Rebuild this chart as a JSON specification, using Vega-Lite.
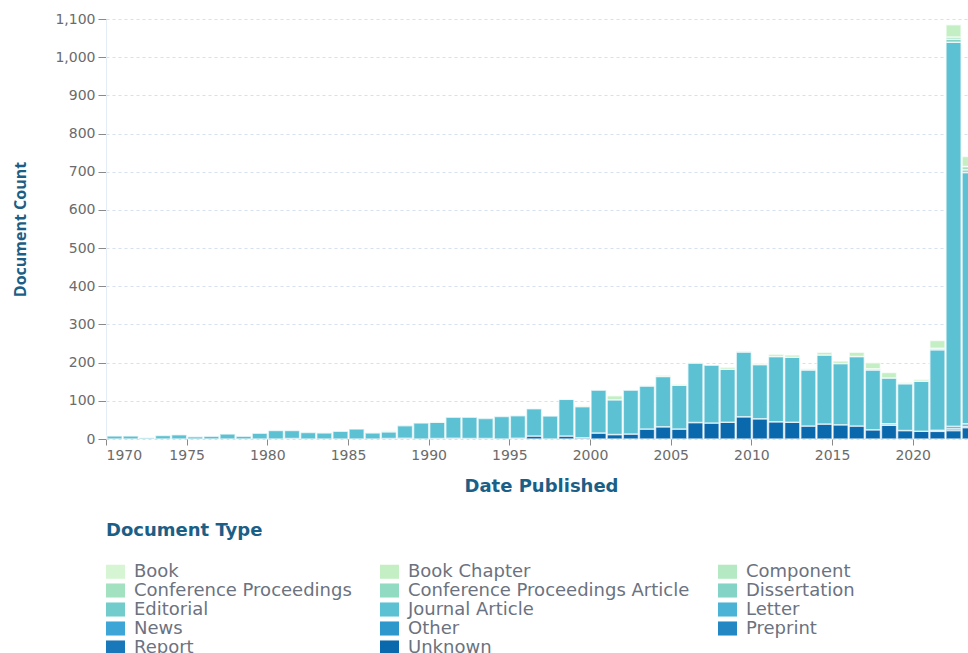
{
  "$schema": "https://vega.github.io/schema/vega-lite/v6.json",
  "width": 862,
  "height": 420,
  "autosize": {"type": "none"},
  "padding": {"left": 106, "top": 19, "right": 0, "bottom": 214},
  "background": "white",
  "config": {
    "view": {"stroke": null},
    "font": "DejaVu Sans"
  },
  "data": {
    "values": [
      {"year": "1970", "type": "Journal Article", "count": 8},
      {"year": "1971", "type": "Journal Article", "count": 8},
      {"year": "1972", "type": "Journal Article", "count": 3},
      {"year": "1973", "type": "Journal Article", "count": 9},
      {"year": "1974", "type": "Journal Article", "count": 11},
      {"year": "1975", "type": "Journal Article", "count": 6},
      {"year": "1976", "type": "Journal Article", "count": 7},
      {"year": "1977", "type": "Journal Article", "count": 13},
      {"year": "1978", "type": "Journal Article", "count": 7},
      {"year": "1979", "type": "Journal Article", "count": 15},
      {"year": "1980", "type": "Journal Article", "count": 22},
      {"year": "1981", "type": "News", "count": 1},
      {"year": "1981", "type": "Journal Article", "count": 21},
      {"year": "1982", "type": "Journal Article", "count": 17},
      {"year": "1983", "type": "Journal Article", "count": 16},
      {"year": "1984", "type": "Journal Article", "count": 20},
      {"year": "1985", "type": "Journal Article", "count": 26},
      {"year": "1986", "type": "Journal Article", "count": 16},
      {"year": "1987", "type": "Unknown", "count": 1},
      {"year": "1987", "type": "Journal Article", "count": 18},
      {"year": "1987", "type": "Book Chapter", "count": 3},
      {"year": "1988", "type": "Unknown", "count": 2},
      {"year": "1988", "type": "Journal Article", "count": 33},
      {"year": "1989", "type": "Journal Article", "count": 42},
      {"year": "1990", "type": "Unknown", "count": 1},
      {"year": "1990", "type": "Journal Article", "count": 43},
      {"year": "1990", "type": "Book Chapter", "count": 1},
      {"year": "1991", "type": "Unknown", "count": 2},
      {"year": "1991", "type": "Journal Article", "count": 55},
      {"year": "1992", "type": "Unknown", "count": 1},
      {"year": "1992", "type": "Journal Article", "count": 56},
      {"year": "1993", "type": "Unknown", "count": 1},
      {"year": "1993", "type": "Journal Article", "count": 53},
      {"year": "1994", "type": "Journal Article", "count": 59},
      {"year": "1995", "type": "Unknown", "count": 2},
      {"year": "1995", "type": "Journal Article", "count": 59},
      {"year": "1996", "type": "Unknown", "count": 8},
      {"year": "1996", "type": "Journal Article", "count": 71},
      {"year": "1997", "type": "Journal Article", "count": 60},
      {"year": "1998", "type": "Unknown", "count": 8},
      {"year": "1998", "type": "Journal Article", "count": 96},
      {"year": "1998", "type": "Book Chapter", "count": 1},
      {"year": "1999", "type": "Unknown", "count": 3},
      {"year": "1999", "type": "Journal Article", "count": 82},
      {"year": "1999", "type": "Book Chapter", "count": 2},
      {"year": "2000", "type": "Unknown", "count": 16},
      {"year": "2000", "type": "Journal Article", "count": 112},
      {"year": "2001", "type": "Unknown", "count": 12},
      {"year": "2001", "type": "Journal Article", "count": 91},
      {"year": "2001", "type": "Book Chapter", "count": 10},
      {"year": "2002", "type": "Unknown", "count": 13},
      {"year": "2002", "type": "Journal Article", "count": 115},
      {"year": "2003", "type": "Unknown", "count": 26},
      {"year": "2003", "type": "Journal Article", "count": 113},
      {"year": "2003", "type": "Book Chapter", "count": 1},
      {"year": "2004", "type": "Unknown", "count": 32},
      {"year": "2004", "type": "Journal Article", "count": 132},
      {"year": "2004", "type": "Book Chapter", "count": 3},
      {"year": "2005", "type": "Unknown", "count": 26},
      {"year": "2005", "type": "Journal Article", "count": 115},
      {"year": "2005", "type": "Book Chapter", "count": 2},
      {"year": "2006", "type": "Unknown", "count": 43},
      {"year": "2006", "type": "Journal Article", "count": 156},
      {"year": "2006", "type": "Book Chapter", "count": 1},
      {"year": "2007", "type": "Unknown", "count": 42},
      {"year": "2007", "type": "Journal Article", "count": 151},
      {"year": "2008", "type": "Unknown", "count": 44},
      {"year": "2008", "type": "Journal Article", "count": 139},
      {"year": "2008", "type": "Book Chapter", "count": 5},
      {"year": "2009", "type": "Unknown", "count": 58},
      {"year": "2009", "type": "Journal Article", "count": 170},
      {"year": "2009", "type": "Book Chapter", "count": 2},
      {"year": "2010", "type": "Unknown", "count": 53},
      {"year": "2010", "type": "Journal Article", "count": 142},
      {"year": "2010", "type": "Book Chapter", "count": 3},
      {"year": "2011", "type": "Unknown", "count": 45},
      {"year": "2011", "type": "Journal Article", "count": 171},
      {"year": "2011", "type": "Book Chapter", "count": 6},
      {"year": "2012", "type": "Unknown", "count": 44},
      {"year": "2012", "type": "Journal Article", "count": 170},
      {"year": "2012", "type": "Book Chapter", "count": 6},
      {"year": "2013", "type": "Unknown", "count": 34},
      {"year": "2013", "type": "Journal Article", "count": 147},
      {"year": "2013", "type": "Book Chapter", "count": 3},
      {"year": "2014", "type": "Unknown", "count": 39},
      {"year": "2014", "type": "Journal Article", "count": 181},
      {"year": "2014", "type": "Book Chapter", "count": 7},
      {"year": "2015", "type": "Unknown", "count": 37},
      {"year": "2015", "type": "Journal Article", "count": 161},
      {"year": "2015", "type": "Book Chapter", "count": 6},
      {"year": "2016", "type": "Unknown", "count": 34},
      {"year": "2016", "type": "Journal Article", "count": 182},
      {"year": "2016", "type": "Book Chapter", "count": 11},
      {"year": "2017", "type": "Unknown", "count": 24},
      {"year": "2017", "type": "Journal Article", "count": 157},
      {"year": "2017", "type": "Dissertation", "count": 3},
      {"year": "2017", "type": "Book Chapter", "count": 16},
      {"year": "2018", "type": "Unknown", "count": 36},
      {"year": "2018", "type": "Journal Article", "count": 120},
      {"year": "2018", "type": "Letter", "count": 4},
      {"year": "2018", "type": "Book Chapter", "count": 14},
      {"year": "2019", "type": "Unknown", "count": 22},
      {"year": "2019", "type": "Journal Article", "count": 123},
      {"year": "2019", "type": "Book Chapter", "count": 3},
      {"year": "2020", "type": "Unknown", "count": 20},
      {"year": "2020", "type": "Journal Article", "count": 131},
      {"year": "2020", "type": "Book Chapter", "count": 5},
      {"year": "2021", "type": "Unknown", "count": 20},
      {"year": "2021", "type": "Letter", "count": 3},
      {"year": "2021", "type": "Journal Article", "count": 211},
      {"year": "2021", "type": "Dissertation", "count": 4},
      {"year": "2021", "type": "Book Chapter", "count": 20},
      {"year": "2022", "type": "Unknown", "count": 22},
      {"year": "2022", "type": "Preprint", "count": 5},
      {"year": "2022", "type": "Journal Article", "count": 1006},
      {"year": "2022", "type": "Letter", "count": 6},
      {"year": "2022", "type": "Dissertation", "count": 8},
      {"year": "2022", "type": "Conference Proceedings", "count": 6},
      {"year": "2022", "type": "Book Chapter", "count": 32},
      {"year": "2023", "type": "Unknown", "count": 30},
      {"year": "2023", "type": "Preprint", "count": 3},
      {"year": "2023", "type": "Journal Article", "count": 659},
      {"year": "2023", "type": "Letter", "count": 6},
      {"year": "2023", "type": "Dissertation", "count": 7},
      {"year": "2023", "type": "Conference Proceedings", "count": 9},
      {"year": "2023", "type": "Book Chapter", "count": 26}
    ]
  },
  "mark": {"type": "bar", "clip": true, "stroke": "#ffffff", "strokeWidth": 1.5, "strokeOpacity": 0.65},
  "encoding": {
    "x": {
      "field": "year",
      "type": "temporal",
      "timeUnit": "utcyear",
      "scale": {"domain": [{"year": 1970, "month": 1, "date": 1, "utc": true}, {"year": 2023, "month": 6, "date": 6, "utc": true}], "nice": false},
      "axis": {
        "title": "Date Published",
        "format": "%Y",
        "tickCount": {"interval": "year", "step": 5},
        "grid": false,
        "domain": false,
        "tickSize": 6,
        "tickColor": "#8a8a8a",
        "labelColor": "#6b6b6b",
        "labelFontSize": 14,
        "labelPadding": 3,
        "titleColor": "#1b5e86",
        "titleFontSize": 18,
        "titleFontWeight": "bold",
        "titlePadding": 15,
        "titleX": 435
      }
    },
    "y": {
      "field": "count",
      "type": "quantitative",
      "aggregate": "sum",
      "stack": "zero",
      "scale": {"domain": [0, 1100], "nice": false},
      "axis": {
        "title": "Document Count",
        "titleFont": "Open Sans",
        "format": ",d",
        "values": [0, 100, 200, 300, 400, 500, 600, 700, 800, 900, 1000, 1100],
        "grid": true,
        "gridDash": [3, 3],
        "gridColor": "#d6e0f0",
        "domainColor": "#e3ecf7",
        "tickSize": 8,
        "tickColor": "#8a8a8a",
        "labelColor": "#6b6b6b",
        "labelFontSize": 14,
        "labelPadding": 3,
        "titleColor": "#1b5e86",
        "titleFontSize": 16,
        "titleFontWeight": "bold",
        "titlePadding": 26
      }
    },
    "color": {
      "field": "type",
      "type": "nominal",
      "scale": {
        "domain": ["Book", "Book Chapter", "Component", "Conference Proceedings", "Conference Proceedings Article", "Dissertation", "Editorial", "Journal Article", "Letter", "News", "Other", "Preprint", "Report", "Unknown"],
        "range": ["#d6f5d3", "#c4efc4", "#b5e9c3", "#a3e2c1", "#92dbc3", "#83d4c7", "#71cccb", "#5cc1d2", "#4bb4d6", "#3ea6d6", "#2e97cb", "#2287c2", "#1878ba", "#0a68ad"]
      },
      "legend": {
        "title": "Document Type",
        "orient": "none",
        "legendX": 0,
        "legendY": 503,
        "columns": 3,
        "direction": "horizontal",
        "symbolType": "M-1,-0.74H1V0.74H-1Z",
        "symbolSize": 361,
        "symbolStrokeWidth": 0,
        "labelFontSize": 18,
        "labelColor": "#6b7280",
        "labelLimit": 400,
        "labelOffset": 9,
        "rowPadding": -0.3,
        "columnPadding": 28,
        "titleFontSize": 18,
        "titleColor": "#1b5e86",
        "titleFontWeight": "bold",
        "titlePadding": 22
      }
    },
    "order": {"field": "type", "sort": "descending"}
  }
}
